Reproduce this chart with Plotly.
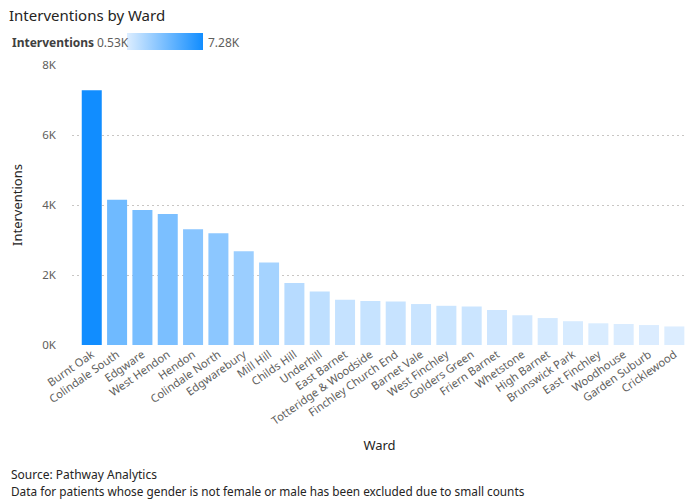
import plotly.graph_objects as go

wards = ["Burnt Oak", "Colindale South", "Edgware", "West Hendon", "Hendon", "Colindale North",
         "Edgwarebury", "Mill Hill", "Childs Hill", "Underhill", "East Barnet", "Totteridge & Woodside",
         "Finchley Church End", "Barnet Vale", "West Finchley", "Golders Green", "Friern Barnet",
         "Whetstone", "High Barnet", "Brunswick Park", "East Finchley", "Woodhouse", "Garden Suburb",
         "Cricklewood"]
interventions = [7280, 4150, 3860, 3740, 3310, 3190, 2680, 2360, 1770, 1530, 1290, 1260,
                 1240, 1170, 1120, 1100, 1000, 850, 770, 680, 620, 600, 570, 530]
y_tick_vals = [0, 2000, 4000, 6000, 8000]
y_tick_text = ["0K", "2K", "4K", "6K", "8K"]
legend_min_label = "0.53K"
legend_max_label = "7.28K"

W, H = 695, 501
L, R, T, B = 72, 8, 65, 156
FONT = "Segoe UI, Noto Sans, DejaVu Sans, sans-serif"

def cx(px):
    return px / W

def cy(py):
    return 1 - py / H

def px_x(px):
    return (px - L) / (W - L - R)

def px_y(py):
    return 1 - (py - T) / (H - T - B)

fig = go.Figure()
fig.add_trace(go.Bar(
    x=wards,
    y=interventions,
    marker=dict(
        color=interventions,
        colorscale=[[0, "#DCEDFF"], [1, "#118DFF"]],
        cmin=min(interventions),
        cmax=max(interventions),
        line=dict(width=0),
        showscale=True,
        colorbar=dict(
            orientation="h",
            lenmode="pixels", len=76,
            thicknessmode="pixels", thickness=17,
            xref="container", yref="container",
            x=cx(144), xanchor="left",
            y=cy(33), yanchor="top",
            showticklabels=False, ticks="",
            outlinewidth=0, xpad=0, ypad=0,
        ),
    ),
    width=0.79,
    hoverinfo="x+y",
))

fig.update_layout(
    width=W, height=H,
    margin=dict(l=L, r=R, t=T, b=B),
    paper_bgcolor="white", plot_bgcolor="white",
    font=dict(family=FONT, color="#605E5C"),
    showlegend=False,
    title=dict(text="Interventions by Ward", x=cx(9), xref="container", xanchor="left",
               y=cy(16), yref="container", yanchor="middle",
               font=dict(size=15, color="#252423", family=FONT)),
    xaxis=dict(
        range=[-0.78, 23.5],
        tickangle=-35,
        tickfont=dict(size=11.2, color="#605E5C"),
        showgrid=False, zeroline=False, showline=False, ticks="",
        title=dict(text="Ward", font=dict(size=13, color="#252423"), standoff=14),
    ),
    yaxis=dict(
        range=[0, 8000],
        tickvals=y_tick_vals, ticktext=y_tick_text,
        tickfont=dict(size=11.5, color="#605E5C"),
        showgrid=True, gridcolor="#C8C6C4", griddash="1.5px,3.5px", gridwidth=1,
        zeroline=False, showline=False, ticks="", ticklabelstandoff=15,
        title=dict(text="Interventions", font=dict(size=13, color="#252423"), standoff=16),
    ),
)

fig.add_annotation(text="<b>Interventions</b>", xref="paper", yref="paper",
                   x=px_x(10), y=px_y(42), xanchor="left", yanchor="middle",
                   showarrow=False, font=dict(size=12, color="#404040", family=FONT))
fig.add_annotation(text=legend_min_label, xref="paper", yref="paper",
                   x=px_x(95), y=px_y(42), xanchor="left", yanchor="middle",
                   showarrow=False, font=dict(size=12, color="#605E5C", family=FONT))
fig.add_annotation(text=legend_max_label, xref="paper", yref="paper",
                   x=px_x(206), y=px_y(42), xanchor="left", yanchor="middle",
                   showarrow=False, font=dict(size=12, color="#605E5C", family=FONT))
fig.add_annotation(text="Source: Pathway Analytics", xref="paper", yref="paper",
                   x=px_x(9), y=px_y(474), xanchor="left", yanchor="middle",
                   showarrow=False, font=dict(size=12, color="#252423", family=FONT))
fig.add_annotation(text="Data for patients whose gender is not female or male has been excluded due to small counts",
                   xref="paper", yref="paper",
                   x=px_x(9), y=px_y(491), xanchor="left", yanchor="middle",
                   showarrow=False, font=dict(size=11.8, color="#252423", family=FONT))

fig.write_html("out.html", config={"displayModeBar": False},
               post_script="document.body.style.margin='0';document.body.style.overflow='hidden';")
